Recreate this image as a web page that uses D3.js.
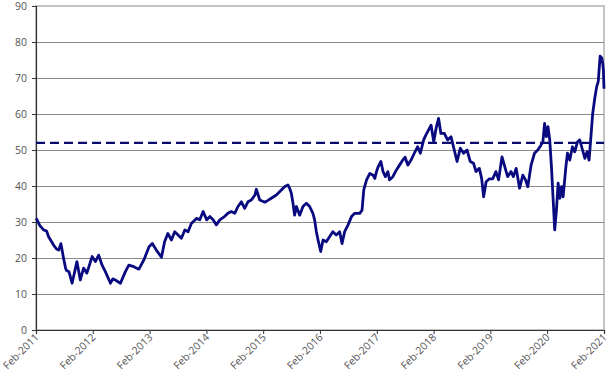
<!DOCTYPE html>
<html>
<head>
<meta charset="utf-8">
<script src="https://cdn.jsdelivr.net/npm/d3@7"></script>
<style>
  html, body { margin: 0; padding: 0; background: #fff; }
  svg { display: block; }
  text { font-family: "Open Sans", "Noto Sans", sans-serif; }
</style>
</head>
<body>
<svg id="chart" width="613" height="381"></svg>
<script>
// ---- data ----
const dates = [
  "2011-02-01","2011-02-06","2011-02-26","2011-03-22","2011-04-10","2011-04-23","2011-05-25","2011-06-13","2011-06-27",
  "2011-07-11","2011-07-28","2011-08-10","2011-08-17","2011-09-01","2011-09-21","2011-10-07","2011-10-22","2011-11-13",
  "2011-12-04","2011-12-25","2012-01-28","2012-02-18","2012-03-10","2012-04-01","2012-04-22","2012-05-25","2012-06-09",
  "2012-06-25","2012-07-28","2012-08-29","2012-09-20","2012-10-22","2012-11-24","2012-12-25","2013-01-28","2013-02-18",
  "2013-03-16","2013-04-18","2013-05-08","2013-05-29","2013-06-21","2013-07-12","2013-08-03","2013-08-24","2013-09-15",
  "2013-10-06","2013-10-27","2013-11-29","2013-12-20","2014-01-11","2014-02-03","2014-02-24","2014-03-16","2014-04-06",
  "2014-04-28","2014-05-28","2014-06-19","2014-07-11","2014-08-02","2014-08-23","2014-09-14","2014-10-05","2014-10-26",
  "2014-11-17","2014-12-10","2014-12-19","2015-01-10","2015-02-12","2015-03-04","2015-03-25","2015-04-27","2015-05-29",
  "2015-06-19","2015-07-10","2015-07-21","2015-08-01","2015-08-12","2015-08-22","2015-09-03","2015-09-24","2015-10-15",
  "2015-11-06","2015-11-27","2015-12-18","2015-12-29","2016-01-09","2016-01-20","2016-02-06","2016-02-21","2016-03-13",
  "2016-04-03","2016-04-24","2016-05-16","2016-06-07","2016-06-22","2016-07-09","2016-07-31","2016-08-22","2016-09-12",
  "2016-10-14","2016-10-29","2016-11-09","2016-11-27","2016-12-18","2017-01-08","2017-01-19","2017-01-30","2017-02-10",
  "2017-02-27","2017-03-13","2017-03-28","2017-04-13","2017-04-24","2017-05-15","2017-06-06","2017-06-27","2017-07-18",
  "2017-08-02","2017-08-19","2017-09-09","2017-09-30","2017-10-21","2017-11-08","2017-11-29","2017-12-14","2018-01-05",
  "2018-01-16","2018-02-02","2018-02-17","2018-03-05","2018-03-20","2018-04-11","2018-05-02","2018-05-24","2018-06-14",
  "2018-07-02","2018-07-23","2018-08-13","2018-09-04","2018-09-25","2018-10-16","2018-11-01","2018-11-22","2018-12-07",
  "2018-12-20","2019-01-05","2019-01-26","2019-02-16","2019-03-09","2019-03-26","2019-04-17","2019-05-02","2019-05-23",
  "2019-06-14","2019-06-29","2019-07-17","2019-08-08","2019-08-29","2019-09-15","2019-09-30","2019-10-21","2019-11-12",
  "2019-12-03","2019-12-25","2020-01-05","2020-01-16","2020-01-27","2020-02-07","2020-02-18","2020-02-29","2020-03-10",
  "2020-03-21","2020-04-01","2020-04-12","2020-04-23","2020-05-04","2020-05-14","2020-06-01","2020-06-11","2020-06-26",
  "2020-07-13","2020-07-28","2020-08-15","2020-08-29","2020-09-16","2020-10-01","2020-10-15","2020-10-28","2020-11-09",
  "2020-11-20","2020-12-05","2020-12-16","2020-12-26","2021-01-02","2021-01-07","2021-01-18","2021-01-24","2021-01-28",
  "2021-02-01"
];
const values = [
  31.0,30.7,29.0,27.8,27.5,25.9,23.6,22.5,22.2,
  24.0,20.0,17.2,16.5,16.2,13.0,16.0,19.0,13.9,
  17.2,15.8,20.4,19.0,20.8,18.0,16.2,13.0,14.2,
  13.9,13.0,16.2,18.0,17.6,16.9,19.4,23.1,24.0,
  22.2,20.2,24.5,26.8,25.0,27.3,26.4,25.5,27.8,
  27.3,29.6,31.0,30.6,32.9,30.6,31.5,30.6,29.2,
  30.6,31.5,32.4,32.9,32.4,34.3,35.6,33.8,35.6,
  36.1,37.5,39.1,36.1,35.5,36.0,36.6,37.5,38.9,
  39.8,40.3,39.4,38.0,35.2,31.9,34.3,31.9,34.3,
  35.2,34.3,32.4,30.6,27.3,25.0,21.8,25.0,24.5,
  25.9,27.3,26.4,27.3,24.0,27.3,29.2,31.5,32.4,
  32.4,33.3,38.9,41.7,43.5,43.0,42.1,44.0,45.4,
  46.8,44.0,42.6,44.0,41.7,42.6,44.4,45.8,47.2,
  48.0,45.8,47.2,49.1,50.9,49.1,52.8,54.2,56.0,
  56.9,52.3,56.0,58.8,54.6,54.6,52.8,53.7,50.0,
  46.8,50.5,49.1,50.0,46.8,46.3,44.0,44.9,42.1,
  37.0,41.2,42.0,42.0,44.0,41.7,48.1,45.8,42.6,
  44.0,42.6,44.9,39.4,43.0,41.7,39.8,45.8,49.1,
  50.0,51.4,52.3,57.4,53.7,56.5,52.8,45.4,37.0,
  27.8,33.3,40.8,36.6,39.8,37.0,45.4,49.1,47.2,
  50.9,49.5,52.3,52.8,50.0,47.7,49.5,47.2,53.7,
  60.0,64.8,67.6,69.0,73.1,76.1,75.5,74.0,72.2,
  67.0
];
const referenceLevel = [52];
const yTicks = [0,10,20,30,40,50,60,70,80,90];
const xTickYears = [2011,2012,2013,2014,2015,2016,2017,2018,2019,2020,2021];

// ---- layout ----
const svg = d3.select("#chart");
const mLeft = 36, mRight = 604, mTop = 6, mBottom = 330;
const parse = d3.timeParse("%Y-%m-%d");
const series = dates.map((d, i) => ({ date: parse(d), value: values[i] }));
const xTickDates = xTickYears.map(yr => new Date(yr, 1, 1));

const x = d3.scaleTime().domain([new Date(2011,1,1), new Date(2021,1,1)]).range([mLeft, mRight]);
const y = d3.scaleLinear().domain([0, 90]).range([mBottom, mTop]);

// plot frame (top/right light border)
svg.append("rect")
  .attr("x", mLeft).attr("y", mTop)
  .attr("width", mRight - mLeft).attr("height", mBottom - mTop)
  .attr("fill", "none").attr("stroke", "#c4c4c4").attr("stroke-width", 2);

// gridlines
svg.append("g").selectAll("line")
  .data(yTicks.filter(t => t > 0 && t < 90))
  .join("line")
  .attr("x1", mLeft).attr("x2", mRight)
  .attr("y1", d => Math.round(y(d)) + 0.5).attr("y2", d => Math.round(y(d)) + 0.5)
  .attr("stroke", "#8a8a8a").attr("stroke-width", 1);

// y axis
const yAxis = svg.append("g")
  .attr("transform", `translate(${mLeft},0)`)
  .call(d3.axisLeft(y).tickValues(yTicks).tickSize(4).tickPadding(5).tickFormat(d3.format("d")));
yAxis.select(".domain").attr("stroke", "#333").attr("stroke-width", 1.2);
yAxis.selectAll(".tick line").attr("stroke", "#333");
yAxis.selectAll("text").attr("fill", "#555").attr("font-size", 10.5);

// x axis
const xAxis = svg.append("g")
  .attr("transform", `translate(0,${mBottom})`)
  .call(d3.axisBottom(x).tickValues(xTickDates).tickSize(4).tickFormat(d3.timeFormat("%b-%Y")));
xAxis.select(".domain").attr("stroke", "#333").attr("stroke-width", 1.2);
xAxis.selectAll(".tick line").attr("stroke", "#333");
xAxis.selectAll("text")
  .attr("fill", "#555").attr("font-size", 10.5)
  .attr("text-anchor", "end")
  .attr("dy", null).attr("y", null)
  .attr("transform", "translate(3,8) rotate(-45)");

// reference dashed line
svg.append("g").selectAll("line")
  .data(referenceLevel)
  .join("line")
  .attr("x1", mLeft).attr("x2", mRight)
  .attr("y1", d => y(d)).attr("y2", d => y(d))
  .attr("stroke", "#0a0a6e").attr("stroke-width", 2.2)
  .attr("stroke-dasharray", "9,5");

// main series line
const line = d3.line().x(d => x(d.date)).y(d => y(d.value));
svg.append("path")
  .datum(series)
  .attr("d", line)
  .attr("fill", "none")
  .attr("stroke", "#0a0a80")
  .attr("stroke-width", 2.8)
  .attr("stroke-linejoin", "round");
</script>
</body>
</html>
